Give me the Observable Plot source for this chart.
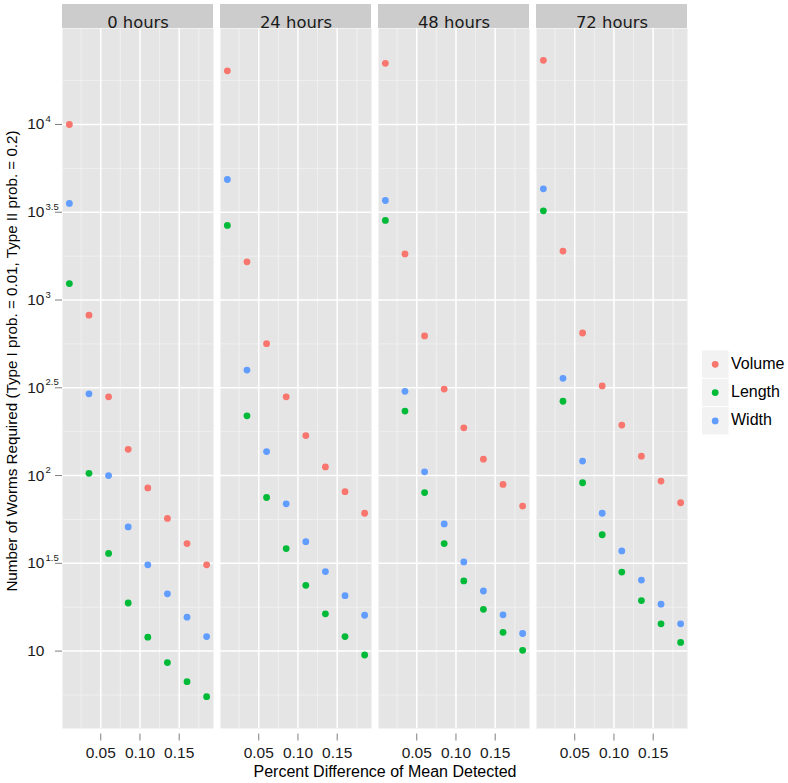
<!DOCTYPE html>
<html>
<head>
<meta charset="utf-8">
<script src="https://cdn.jsdelivr.net/npm/d3@7"></script>
<script src="https://cdn.jsdelivr.net/npm/@observablehq/plot@0.6"></script>
<style>
  html, body { margin: 0; padding: 0; background: white; }
  #chart { width: 788px; height: 783px; }
</style>
</head>
<body>
<div id="chart"></div>
<script>
// ---- data ----
const hours = ["0 hours", "24 hours", "48 hours", "72 hours"];
const series = ["Volume", "Length", "Width"];
const seriesColors = ["#F8766D", "#00BA38", "#619CFF"];
const pctDiff = [0.01, 0.035, 0.06, 0.085, 0.11, 0.135, 0.16, 0.185];

const volume_0h  = [10000, 820, 281, 141, 85, 57, 41, 31];
const length_0h  = [1240, 103, 36, 18.8, 12.0, 8.6, 6.7, 5.5];
const width_0h   = [3550, 292, 100, 51, 31, 21.2, 15.6, 12.1];

const volume_24h = [20200, 1650, 564, 281, 169, 112, 81, 61];
const length_24h = [2660, 219, 75, 38.4, 23.7, 16.3, 12.1, 9.5];
const width_24h  = [4860, 399, 137, 69, 42, 28.4, 20.7, 16.0];

const volume_48h = [22300, 1830, 624, 311, 187, 124, 89, 67];
const length_48h = [2840, 233, 80, 41, 25.1, 17.3, 12.8, 10.1];
const width_48h  = [3690, 302, 105, 53, 32.2, 22.0, 16.1, 12.6];

const volume_72h = [23200, 1900, 649, 324, 194, 129, 93, 70];
const length_72h = [3220, 265, 91, 46, 28.2, 19.4, 14.3, 11.2];
const width_72h  = [4300, 358, 121, 61, 37.2, 25.4, 18.5, 14.3];

// tick values / labels
const xTicks = [0.05, 0.10, 0.15];
const xTickLabels = ["0.05", "0.10", "0.15"];
const xMinor = [0.025, 0.075, 0.125, 0.175];
const yTickExp = [1, 1.5, 2, 2.5, 3, 3.5, 4];
const yTickBase = ["10", "10", "10", "10", "10", "10", "10"];
const yTickSup = ["", "1.5", "2", "2.5", "3", "3.5", "4"];
const yMinorExp = [0.75, 1.25, 1.75, 2.25, 2.75, 3.25, 3.75, 4.25];

const xTitle = "Percent Difference of Mean Detected";
const yTitle = "Number of Worms Required (Type I prob. = 0.01, Type II prob. = 0.2)";

// ---- build table ----
const table = {
  "0 hours":  {Volume: volume_0h,  Length: length_0h,  Width: width_0h},
  "24 hours": {Volume: volume_24h, Length: length_24h, Width: width_24h},
  "48 hours": {Volume: volume_48h, Length: length_48h, Width: width_48h},
  "72 hours": {Volume: volume_72h, Length: length_72h, Width: width_72h}
};
const rows = [];
for (const h of hours) for (const s of series) table[h][s].forEach((v, i) => rows.push({hours: h, series: s, pct: pctDiff[i], n: v}));

// ggplot-like 5% expansion
const xExt = d3.extent(pctDiff);
const xPad = (xExt[1] - xExt[0]) * 0.05;
const xDomain = [xExt[0] - xPad, xExt[1] + xPad];
const lExt = d3.extent(rows, d => Math.log10(d.n));
const lPad = (lExt[1] - lExt[0]) * 0.05;
const yDomain = [Math.pow(10, lExt[0] - lPad), Math.pow(10, lExt[1] + lPad)];

const yMajor = yTickExp.map(e => Math.pow(10, e));
const yMinor = yMinorExp.map(e => Math.pow(10, e));
const yIdx = yTickExp.map((e, i) => i);

const W = 788, H = 783, mL = 62, mR = 100, mT = 28, mB = 55;
const font = "'Liberation Sans', Arial, Helvetica, sans-serif";

const chart = Plot.plot({
  width: W, height: H,
  marginLeft: mL, marginRight: mR, marginTop: mT, marginBottom: mB,
  style: {background: "white", fontFamily: font, overflow: "visible"},
  fx: {domain: hours, paddingInner: 0.042, paddingOuter: 0, axis: null, label: null},
  x: {domain: xDomain, label: null},
  y: {type: "log", domain: yDomain, label: null},
  color: {domain: series, range: seriesColors},
  marks: [
    // strip backgrounds
    Plot.rect(hours, {fx: d => d, x1: () => xDomain[0], x2: () => xDomain[1], y1: () => yDomain[1], y2: () => yDomain[1], insetTop: -24, fill: "#CCCCCC"}),
    Plot.text(hours, {fx: d => d, text: d => d, frameAnchor: "top", dy: -12, fontSize: 16.4, fontFamily: "'DejaVu Sans', Verdana, sans-serif", fill: "#1a1a1a"}),
    // panel
    Plot.frame({fill: "#E5E5E5", stroke: null}),
    Plot.ruleY(yMinor, {stroke: "#F2F2F2", strokeWidth: 0.8}),
    Plot.ruleX(xMinor, {stroke: "#F2F2F2", strokeWidth: 0.8}),
    Plot.ruleY(yMajor, {stroke: "white", strokeWidth: 1.5}),
    Plot.ruleX(xTicks, {stroke: "white", strokeWidth: 1.5}),
    // points
    Plot.dot(rows, {x: "pct", y: "n", fx: "hours", fill: "series", r: 3.4, stroke: null}),
    // axes
    Plot.axisX({ticks: xTicks, tickFormat: d => xTickLabels[xTicks.indexOf(d)], tickSize: 7, tickPadding: 5.5, dy: 5.5, fontSize: 15.5, stroke: "#7F7F7F", fill: "#1a1a1a", label: null}),
    Plot.axisY({ticks: yMajor, tickFormat: () => "", tickSize: 7, stroke: "#7F7F7F", label: null}),
    Plot.text(yIdx, {fx: () => hours[0], y: i => yMajor[i], text: i => yTickBase[i], frameAnchor: "left", dx: -18, textAnchor: "end", fontSize: 15.5, fill: "#1a1a1a"}),
    Plot.text(yIdx, {fx: () => hours[0], y: i => yMajor[i], text: i => yTickSup[i], frameAnchor: "left", dx: -17, dy: -5.5, textAnchor: "start", fontSize: 9.5, fill: "#1a1a1a"})
  ]
});

const svg = d3.select(chart);
// axis titles
svg.append("text")
  .attr("x", 385).attr("y", 773)
  .attr("text-anchor", "middle").attr("dominant-baseline", "middle")
  .attr("font-size", 16).attr("font-family", font).attr("fill", "#000")
  .text(xTitle);
svg.append("text")
  .attr("transform", "translate(13,361) rotate(-90)")
  .attr("text-anchor", "middle").attr("dominant-baseline", "middle")
  .attr("font-size", 15.2).attr("font-family", font).attr("fill", "#000")
  .text(yTitle);

// legend
const lg = svg.append("g");
series.forEach((s, i) => {
  const y0 = 350.5 + i * 28.3;
  lg.append("rect").attr("x", 702).attr("y", y0).attr("width", 26.5).attr("height", 27.3).attr("fill", "#F2F2F2");
  lg.append("circle").attr("cx", 715.2).attr("cy", y0 + 13.8).attr("r", 3.4).attr("fill", seriesColors[i]);
  lg.append("text").attr("x", 731).attr("y", y0 + 13.8)
    .attr("text-anchor", "start")
    .attr("dominant-baseline", "middle").attr("font-size", 16).attr("font-family", font).attr("fill", "#000")
    .text(s);
});

document.getElementById("chart").appendChild(chart);
</script>
</body>
</html>
